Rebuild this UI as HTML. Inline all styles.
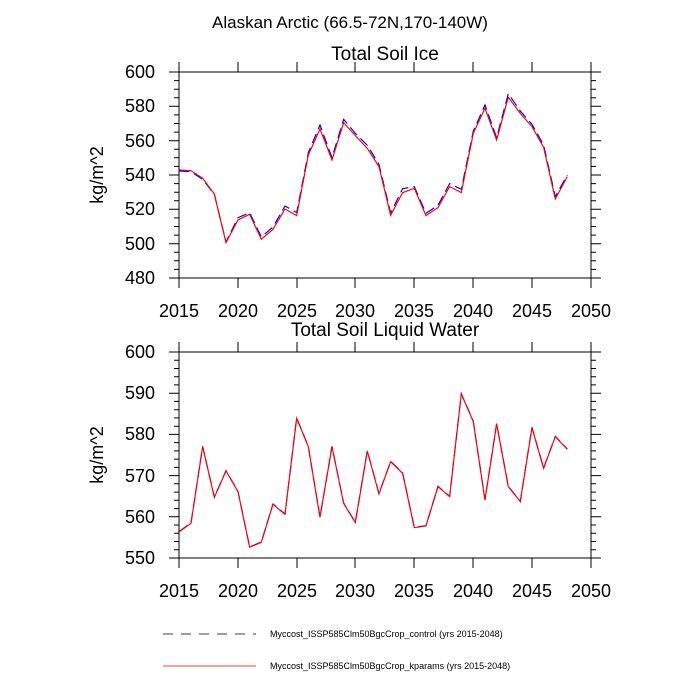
<!DOCTYPE html>
<html><head><style>body{margin:0;background:#fff}svg{display:block}</style></head><body>
<svg width="700" height="700" xmlns="http://www.w3.org/2000/svg" font-family="Liberation Sans, sans-serif">
<text x="350" y="28" font-size="17" text-anchor="middle">Alaskan Arctic (66.5-72N,170-140W)</text>
<text x="385" y="60" font-size="19" text-anchor="middle">Total Soil Ice</text>
<text x="385" y="336" font-size="19" text-anchor="middle">Total Soil Liquid Water</text>
<g id="frames" fill="none" stroke="#000" stroke-width="1">
<rect x="179" y="72" width="412" height="206"/>
<rect x="179" y="352" width="412" height="206"/>
</g>
<g stroke="#000" stroke-width="1">
<path d="M179 72v-10M238 72v-10M297 72v-10M355 72v-10M414 72v-10M473 72v-10M532 72v-10M591 72v-10
M179 278v10M238 278v10M297 278v10M355 278v10M414 278v10M473 278v10M532 278v10M591 278v10
M179 352v-10M238 352v-10M297 352v-10M355 352v-10M414 352v-10M473 352v-10M532 352v-10M591 352v-10
M179 558v10M238 558v10M297 558v10M355 558v10M414 558v10M473 558v10M532 558v10M591 558v10"/>
<path d="M179 72h-10M179 106.3h-10M179 140.7h-10M179 175h-10M179 209.3h-10M179 243.7h-10M179 278h-10
M591 72h10M591 106.3h10M591 140.7h10M591 175h10M591 209.3h10M591 243.7h10M591 278h10
M179 80.6h-5M179 89.2h-5M179 97.7h-5M179 114.9h-5M179 123.5h-5M179 132.1h-5M179 149.2h-5M179 157.8h-5M179 166.4h-5M179 183.6h-5M179 192.2h-5M179 200.7h-5M179 217.9h-5M179 226.5h-5M179 235.1h-5M179 252.2h-5M179 260.8h-5M179 269.4h-5
M591 80.6h5M591 89.2h5M591 97.7h5M591 114.9h5M591 123.5h5M591 132.1h5M591 149.2h5M591 157.8h5M591 166.4h5M591 183.6h5M591 192.2h5M591 200.7h5M591 217.9h5M591 226.5h5M591 235.1h5M591 252.2h5M591 260.8h5M591 269.4h5"/>
<path d="M179 352h-10M179 393.2h-10M179 434.4h-10M179 475.6h-10M179 516.8h-10M179 558h-10
M591 352h10M591 393.2h10M591 434.4h10M591 475.6h10M591 516.8h10M591 558h10
M179 360.2h-5M179 368.5h-5M179 376.7h-5M179 384.9h-5M179 401.4h-5M179 409.7h-5M179 417.9h-5M179 426.2h-5M179 442.6h-5M179 450.9h-5M179 459.1h-5M179 467.4h-5M179 483.8h-5M179 492.1h-5M179 500.3h-5M179 508.6h-5M179 525h-5M179 533.3h-5M179 541.5h-5M179 549.8h-5
M591 360.2h5M591 368.5h5M591 376.7h5M591 384.9h5M591 401.4h5M591 409.7h5M591 417.9h5M591 426.2h5M591 442.6h5M591 450.9h5M591 459.1h5M591 467.4h5M591 483.8h5M591 492.1h5M591 500.3h5M591 508.6h5M591 525h5M591 533.3h5M591 541.5h5M591 549.8h5"/>
</g>
<g font-size="18" text-anchor="end">
<text x="155" y="78">600</text><text x="155" y="112">580</text><text x="155" y="147">560</text><text x="155" y="181">540</text><text x="155" y="215">520</text><text x="155" y="250">500</text><text x="155" y="284">480</text>
<text x="155" y="358">600</text><text x="155" y="399">590</text><text x="155" y="440">580</text><text x="155" y="482">570</text><text x="155" y="523">560</text><text x="155" y="564">550</text>
</g>
<g font-size="18" text-anchor="middle">
<text x="179" y="317">2015</text><text x="238" y="317">2020</text><text x="297" y="317">2025</text><text x="355" y="317">2030</text><text x="414" y="317">2035</text><text x="473" y="317">2040</text><text x="532" y="317">2045</text><text x="591" y="317">2050</text>
<text x="179" y="597">2015</text><text x="238" y="597">2020</text><text x="297" y="597">2025</text><text x="355" y="597">2030</text><text x="414" y="597">2035</text><text x="473" y="597">2040</text><text x="532" y="597">2045</text><text x="591" y="597">2050</text>
</g>
<text font-size="18" text-anchor="middle" transform="translate(103,175) rotate(-90)">kg/m^2</text>
<text font-size="18" text-anchor="middle" transform="translate(103,455) rotate(-90)">kg/m^2</text>
<g transform="translate(170,60) scale(0.3333)" fill="none" stroke-width="3.5">
<polyline stroke="#00f" stroke-dasharray="30,15" transform="translate(0,-2)" points="28,335 63,337 98,360 133,405 168,548 204,475 239,460 274,533 309,503 345,440 380,460 415,280 450,197 486,295 521,180 556,222 592,258 627,315 662,461 698,388 733,382 768,462 804,438 839,373 874,390 910,215 945,137 980,235 1015,103 1051,155 1086,195 1121,257 1156,412 1192,347"/>
<polyline stroke="#f00" points="28,330 63,332 98,355 133,402 168,548 204,480 239,463 274,538 309,508 345,447 380,467 415,285 450,207 486,300 521,188 556,227 592,265 627,320 662,466 698,398 733,385 768,467 804,443 839,380 874,398 910,220 945,145 980,240 1015,112 1051,160 1086,200 1121,262 1156,417 1192,350"/>
</g>
<g transform="translate(170,340) scale(0.3333)" fill="none" stroke-width="3.5">
<polyline stroke="#00f" stroke-dasharray="30,15" transform="translate(0,-1)" points="28,575 63,550 98,320 133,472 168,393 204,455 239,622 274,607 309,493 345,523 380,235 415,320 450,532 486,320 521,490 556,548 592,333 627,462 662,365 698,400 733,563 768,558 804,440 839,470 874,162 910,245 945,480 980,252 1015,440 1051,485 1086,263 1121,385 1156,290 1192,328"/>
<polyline stroke="#f00" points="28,575 63,550 98,320 133,472 168,393 204,455 239,622 274,607 309,493 345,523 380,235 415,320 450,532 486,320 521,490 556,548 592,333 627,462 662,365 698,400 733,563 768,558 804,440 839,470 874,162 910,245 945,480 980,252 1015,440 1051,485 1086,263 1121,385 1156,290 1192,328"/>
</g>
<line x1="163" y1="634" x2="256" y2="634" stroke="#000" stroke-width="0.8" stroke-dasharray="10,8"/>
<text x="270" y="637" font-size="9">Myccost_ISSP585Clm50BgcCrop_control (yrs 2015-2048)</text>
<line x1="163" y1="666" x2="256" y2="666" stroke="#f00" stroke-width="0.8"/>
<text x="270" y="669" font-size="9">Myccost_ISSP585Clm50BgcCrop_kparams (yrs 2015-2048)</text>
</svg>
</body></html>
